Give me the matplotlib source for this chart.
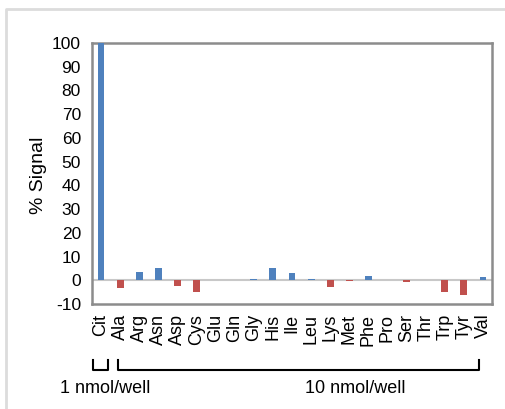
import matplotlib
matplotlib.use('Agg')
import matplotlib.pyplot as plt
from matplotlib.lines import Line2D
import matplotlib.transforms as mtransforms

# amino acid panel, % signal relative to Cit
labels = ['Cit', 'Ala', 'Arg', 'Asn', 'Asp', 'Cys', 'Glu', 'Gln', 'Gly', 'His', 'Ile',
          'Leu', 'Lys', 'Met', 'Phe', 'Pro', 'Ser', 'Thr', 'Trp', 'Tyr', 'Val']
signal = [100, -3.4, 3.7, 5.0, -2.6, -4.8, 0.0, 0.0, 0.6, 5.0, 2.9,
          0.4, -2.8, -0.5, 2.0, 0.2, -0.6, 0.2, -4.8, -6.2, 1.3]
group_labels = ['1 nmol/well', '10 nmol/well']

blue = '#4F81BD'
red = '#C0504D'

plt.rcParams['font.family'] = ['Liberation Sans', 'DejaVu Sans']
plt.rcParams['axes.unicode_minus'] = False

fig = plt.figure(figsize=(5.06, 4.09), dpi=100)
ax = fig.add_axes([0.1818, 0.2567, 0.7905, 0.6382])

x = list(range(len(labels)))
colors = [blue if v >= 0 else red for v in signal]
ax.bar(x, signal, width=0.36, color=colors, zorder=3)
ax.axhline(0, color='#c8c8c8', lw=1.5, zorder=2)

ax.set_xlim(-0.47, len(labels) - 0.53)
ax.set_ylim(-10, 100)
ax.set_yticks(range(-10, 101, 10))
ax.set_xticks(x)
ax.set_xticklabels(labels, rotation=90, fontsize=13)
ax.tick_params(axis='y', length=0, pad=8, labelsize=12.5)
ax.tick_params(axis='x', length=0, pad=7)
ax.set_ylabel('% Signal', fontsize=14)
ax.yaxis.set_label_coords(-0.1125, 0.494)

for s in ax.spines.values():
    s.set_color('#8c8c8c')
    s.set_linewidth(1.8)

# group brackets under the tick labels
trans = mtransforms.blended_transform_factory(ax.transData, fig.transFigure)
y_top, y_bot = 0.1198, 0.0954
for x0, x1 in [(-0.42, 0.38), (0.9, 19.8)]:
    ax.add_line(Line2D([x0, x0, x1, x1], [y_top, y_bot, y_bot, y_top], transform=trans,
                       color='black', lw=1.5, clip_on=False))
fig.text(105 / 506, 0.0513, group_labels[0], ha='center', va='center', fontsize=13)
fig.text(355 / 506, 0.0513, group_labels[1], ha='center', va='center', fontsize=13)

# light frame around the figure
fig.add_artist(Line2D([6 / 506, 6 / 506, 505 / 506], [0, 1 - 9 / 409, 1 - 9 / 409],
                      transform=fig.transFigure, color='#dcdcdc', lw=2))

fig.savefig('out.png', dpi=100)
